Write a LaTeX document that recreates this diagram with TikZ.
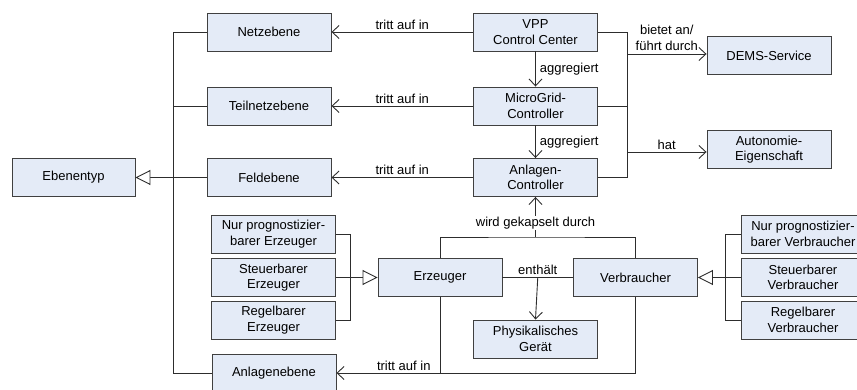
\documentclass[tikz,border=0pt]{standalone}
\usepackage{fontspec}
\setmainfont{Liberation Sans}
\usepackage{tikz}
\usetikzlibrary{positioning,arrows.meta,calc}
\definecolor{boxblue}{RGB}{228,235,247}
\definecolor{boxline}{RGB}{64,64,64}
\definecolor{linegray}{RGB}{45,45,45}

\begin{document}
\begin{tikzpicture}[x=1pt,y=-1pt,
    font=\fontsize{13}{15.5}\selectfont,
    cls/.style={draw=boxline, fill=boxblue, line width=0.9pt, minimum width=124pt,
      minimum height=38pt, inner sep=0pt, align=center},
    conn/.style={draw=linegray, line width=0.9pt},
    assoc/.style={conn, -{Straight Barb[length=7pt,width=13pt]}},
    inherit/.style={conn, -{Triangle[open,length=15pt,width=15pt,fill=white]}},
    lbl/.style={inner sep=2pt}]
  \useasboundingbox (0,0) rectangle (857,390);
  % Ebenen
  \node[cls, minimum width=123pt] (ebenentyp) at (73.5,177.5) {Ebenentyp};
  \node[cls] (netzebene) at (269,32) {Netzebene};
  \node[cls] (teilnetzebene) at (269,106) {Teilnetzebene};
  \node[cls] (feldebene) at (269,177.5) {Feldebene};
  \node[cls] (anlagenebene) at (274,373) {Anlagenebene};
  % Steuerung
  \node[cls] (vpp) at (535.5,32) {VPP\\Control Center};
  \node[cls] (microgrid) at (535.5,106) {MicroGrid-\\Controller};
  \node[cls] (anlagenctrl) at (535.5,177.5) {Anlagen-\\Controller};
  \node[cls] (dems) at (769,55.5) {DEMS-Service};
  \node[cls] (autonomie) at (769,149.5) {Autonomie-\\Eigenschaft};
  % Anlagen
  \node[cls] (erzeuger) at (440,277.5) {Erzeuger};
  \node[cls] (verbraucher) at (635.5,277.5) {Verbraucher};
  \node[cls] (geraet) at (535.5,339) {Physikalisches\\Gerät};
  \node[cls] (erzprog) at (273.5,234) {Nur prognostizier-\\barer Erzeuger};
  \node[cls] (erzsteuer) at (273.5,277.5) {Steuerbarer\\Erzeuger};
  \node[cls] (erzregel) at (273.5,320) {Regelbarer\\Erzeuger};
  \node[cls] (verprog) at (803,234) {Nur prognostizier-\\barer Verbraucher};
  \node[cls] (versteuer) at (803,277.5) {Steuerbarer\\Verbraucher};
  \node[cls] (verregel) at (803,320) {Regelbarer\\Verbraucher};

  \coordinate (lbus) at (173,177.5);
  \coordinate (rbus) at (627,106);
  \coordinate (kapsel) at (535.5,237);

  \draw[conn] (netzebene.west) -- (netzebene.west -| lbus) -- (anlagenebene.west -| lbus) -- (anlagenebene.west);
  \draw[conn] (teilnetzebene.west) -- (teilnetzebene.west -| lbus);
  \draw[inherit] (feldebene.west) -- (ebenentyp.east);

  \draw[assoc] (vpp.west) -- node[lbl, above] {tritt auf in} (netzebene.east);
  \draw[assoc] (microgrid.west) -- node[lbl, above] {tritt auf in} (teilnetzebene.east);
  \draw[assoc] (anlagenctrl.west) -- node[lbl, above] {tritt auf in} (feldebene.east);
  \draw[assoc] (vpp.south) -- node[lbl, right, inner sep=4pt] {aggregiert} (microgrid.north);
  \draw[assoc] (microgrid.south) -- node[lbl, right, inner sep=4pt] {aggregiert} (anlagenctrl.north);

  \draw[conn] (vpp.east) -- (vpp.east -| rbus) -- (anlagenctrl.east -| rbus) -- (anlagenctrl.east);
  \draw[conn] (microgrid.east) -- (rbus);
  \draw[assoc] ($(rbus |- dems.west)+(0,-1.5)$) -- node[lbl, above, align=center, inner sep=3pt] {bietet an/\\führt durch} ($(dems.west)+(0,-1.5)$);
  \draw[assoc] ($(rbus |- autonomie.west)+(0,2.5)$) -- node[lbl, above] {hat} ($(autonomie.west)+(0,2.5)$);

  \draw[conn] (erzeuger.north) |- (kapsel) -| (verbraucher.north);
  \draw[assoc] (kapsel) -- node[lbl, pos=0.35, fill=white, inner sep=1pt] {wird gekapselt durch} (anlagenctrl.south);
  \draw[conn] (erzeuger.east) -- coordinate[midway] (enthaelt) node[lbl, midway, above] {enthält} (verbraucher.west);
  \draw[assoc] (enthaelt) -- (geraet.north);
  \draw[conn] (erzeuger.south) -- (erzeuger.south |- anlagenebene.east) -| (verbraucher.south);
  \draw[assoc] (erzeuger.south |- anlagenebene.east) -- node[lbl, pos=0.35, above] {tritt auf in} (anlagenebene.east);

  \draw[conn] (erzprog.east) -- ++(14,0) |- (erzregel.east);
  \draw[inherit] (erzsteuer.east) -- (erzeuger.west);
  \draw[conn] (verprog.west) -- ++(-15,0) |- (verregel.west);
  \draw[inherit] (versteuer.west) -- (verbraucher.east);
\end{tikzpicture}
\end{document}
